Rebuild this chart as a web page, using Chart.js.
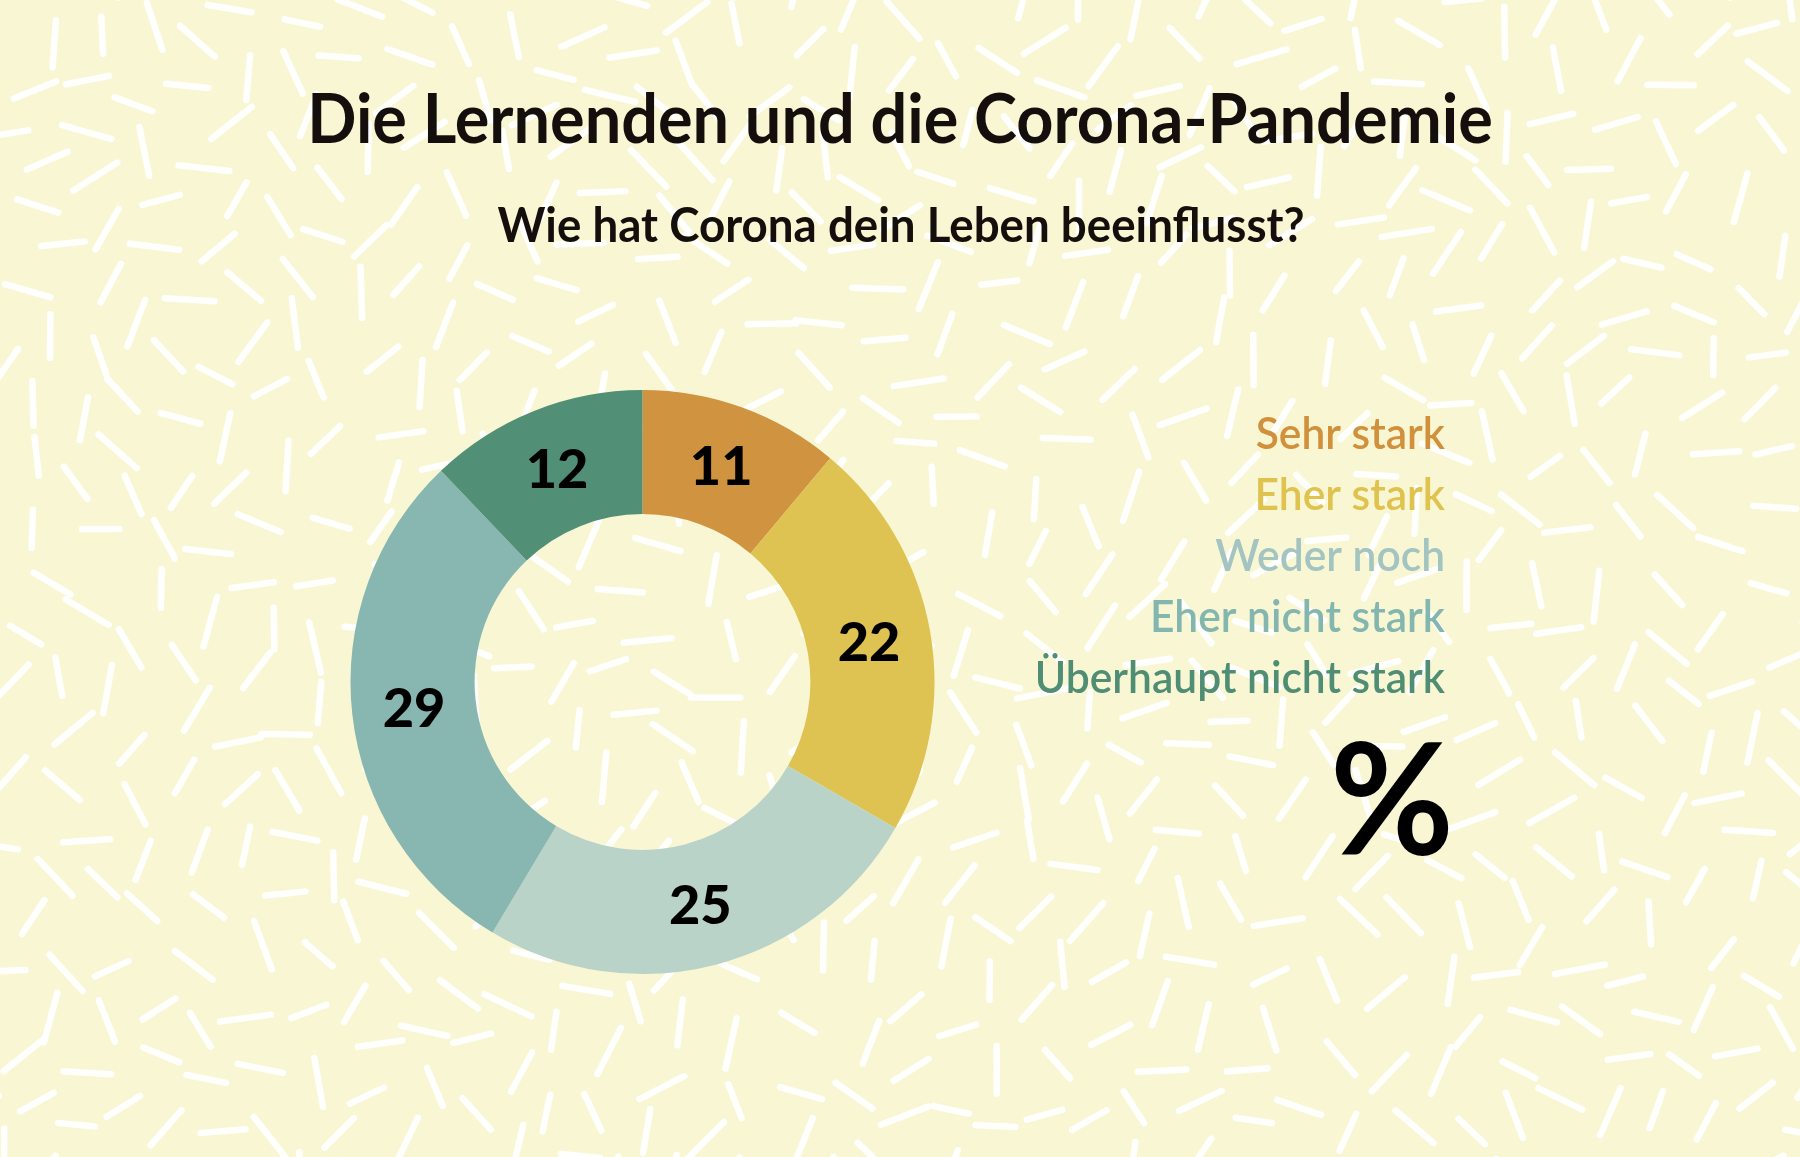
<!DOCTYPE html>
<html>
<head>
<meta charset="utf-8">
<title>Die Lernenden und die Corona-Pandemie</title>
<script src="https://cdn.jsdelivr.net/npm/chart.js@4.4.1/dist/chart.umd.min.js"></script>
<style>
    html, body { margin: 0; padding: 0; background: #f9f7d3; }
    #wrap { width: 1800px; height: 1157px; }
</style>
</head>
<body>
<div id="wrap"><canvas id="donutChart" width="1800" height="1157"></canvas></div>
<script>
const categories = ["Sehr stark", "Eher stark", "Weder noch", "Eher nicht stark", "Überhaupt nicht stark"];
const values = [11, 22, 25, 29, 12];
const sliceColors = ["#d09340", "#dec252", "#b9d3c9", "#88b6b0", "#518f77"];
const legendColors = ["#d1913c", "#e0c24e", "#a3c4c1", "#84b6b0", "#4f8e75"];
const titleText = "Die Lernenden und die Corona-Pandemie";
const subtitleText = "Wie hat Corona dein Leben beeinflusst?";
const unitText = "%";

const FONT = "Lato, 'Open Sans', sans-serif";

// kleiner Zufallsgenerator mit festem Startwert, nur für das Hintergrundmuster
function mulberry32(a) {
    return function() {
        a |= 0; a = a + 0x6D2B79F5 | 0;
        let t = Math.imul(a ^ a >>> 15, 1 | a);
        t = t + Math.imul(t ^ t >>> 7, 61 | t) ^ t;
        return ((t ^ t >>> 14) >>> 0) / 4294967296;
    };
}

// Striche mit Mindestabstand verteilen (damit sie sich kaum überlappen)
function makeDashes(w, h) {
    const rnd = mulberry32(20211);
    const minDist = 45;
    const bucket = minDist;
    const cols = Math.ceil((w + 80) / bucket), rows = Math.ceil((h + 80) / bucket);
    const grid = new Array(cols * rows).fill(null).map(() => []);
    const dashes = [];
    for (let k = 0; k < 40000; k++) {
        const x = -40 + rnd() * (w + 80);
        const y = -40 + rnd() * (h + 80);
        const gx = Math.floor((x + 40) / bucket), gy = Math.floor((y + 40) / bucket);
        let ok = true;
        for (let j = gy - 1; j <= gy + 1 && ok; j++) {
            for (let i = gx - 1; i <= gx + 1 && ok; i++) {
                if (i < 0 || j < 0 || i >= cols || j >= rows) continue;
                for (const d of grid[j * cols + i]) {
                    if ((d.x - x) ** 2 + (d.y - y) ** 2 < minDist * minDist) { ok = false; break; }
                }
            }
        }
        if (!ok) continue;
        const d = { x: x, y: y, a: rnd() * Math.PI, l: 36 + rnd() * 16 };
        grid[gy * cols + gx].push(d);
        dashes.push(d);
    }
    return dashes;
}

let dashCache = null;

// Hintergrund: hellgelb mit weißen Strichen
const backgroundPattern = {
    id: "backgroundPattern",
    beforeDraw(chart) {
        const ctx = chart.ctx;
        const w = chart.width, h = chart.height;
        if (!dashCache) dashCache = makeDashes(w, h);
        ctx.save();
        ctx.fillStyle = "#f9f7d3";
        ctx.fillRect(0, 0, w, h);
        ctx.strokeStyle = "rgba(255,255,255,0.95)";
        ctx.lineWidth = 6.5;
        ctx.lineCap = "round";
        dashCache.forEach(d => {
            const dx = Math.cos(d.a) * d.l / 2, dy = Math.sin(d.a) * d.l / 2;
            ctx.beginPath();
            ctx.moveTo(d.x - dx, d.y - dy);
            ctx.lineTo(d.x + dx, d.y + dy);
            ctx.stroke();
        });
        ctx.restore();
    }
};

// Text horizontal etwas schmaler setzen (Originalschrift läuft enger)
function narrowText(ctx, text, x, y, sx) {
    ctx.save();
    ctx.translate(x, y);
    ctx.scale(sx, 1);
    ctx.fillText(text, 0, 0);
    ctx.restore();
}

// Titel, Werte in den Segmenten, Legende rechts und Prozentzeichen
const annotations = {
    id: "annotations",
    afterDatasetsDraw(chart) {
        const ctx = chart.ctx;
        ctx.save();
        ctx.fillStyle = "#140f0c";
        ctx.textAlign = "center";
        ctx.textBaseline = "alphabetic";
        ctx.font = "bold 68px " + FONT;
        narrowText(ctx, titleText, 900, 143, 0.953);
        ctx.font = "bold 48px " + FONT;
        narrowText(ctx, subtitleText, 901, 242, 0.952);

        // Werte
        const meta = chart.getDatasetMeta(0);
        ctx.font = "900 54px " + FONT;
        ctx.textBaseline = "middle";
        ctx.fillStyle = "#000";
        meta.data.forEach((arc, i) => {
            const p = arc.getCenterPoint();
            ctx.fillText(String(values[i]), p.x, p.y + 2);
        });

        // Legende
        ctx.textAlign = "right";
        ctx.textBaseline = "alphabetic";
        ctx.font = "600 44px " + FONT;
        categories.forEach((label, i) => {
            ctx.fillStyle = legendColors[i];
            narrowText(ctx, label, 1445, 449 + i * 61, 0.967);
        });

        ctx.fillStyle = "#000";
        ctx.font = "bold 156px " + FONT;
        narrowText(ctx, unitText, 1454, 855, 0.97);
        ctx.restore();
    }
};

const ctx = document.getElementById("donutChart").getContext("2d");
const donutChart = new Chart(ctx, {
    type: "doughnut",
    data: {
        labels: categories,
        datasets: [{
            data: values,
            backgroundColor: sliceColors,
            borderWidth: 0,
            hoverOffset: 0
        }]
    },
    options: {
        responsive: false,
        devicePixelRatio: 1,
        animation: false,
        cutout: "57.5%",
        layout: {
            padding: { left: 350, right: 865, top: 390, bottom: 183 }
        },
        plugins: {
            legend: { display: false },
            tooltip: { enabled: false },
            title: { display: false }
        }
    },
    plugins: [backgroundPattern, annotations]
});
</script>
</body>
</html>
